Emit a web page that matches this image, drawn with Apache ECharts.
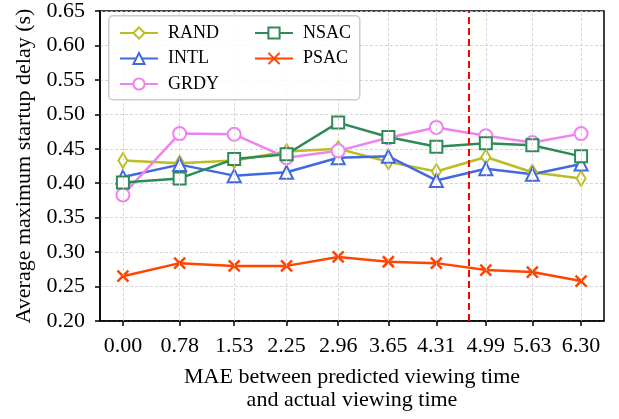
<!DOCTYPE html>
<html>
<head>
<meta charset="utf-8">
<script src="https://cdn.jsdelivr.net/npm/echarts@6/dist/echarts.min.js"></script>
<style>html,body{margin:0;padding:0;background:#fff;}#c{width:619px;height:419px;}</style>
</head>
<body>
<div id="c"></div>
<script>
const xTicks = [0.00, 0.78, 1.53, 2.25, 2.96, 3.65, 4.31, 4.99, 5.63, 6.30];
const rand = [0.433, 0.429, 0.433, 0.446, 0.450, 0.431, 0.417, 0.438, 0.416, 0.407];
const intl = [0.409, 0.427, 0.411, 0.416, 0.437, 0.439, 0.404, 0.421, 0.413, 0.428];
const grdy = [0.383, 0.472, 0.471, 0.437, 0.447, 0.466, 0.481, 0.469, 0.459, 0.472];
const nsac = [0.401, 0.407, 0.435, 0.442, 0.488, 0.467, 0.453, 0.458, 0.455, 0.439];
const psac = [0.265, 0.284, 0.280, 0.280, 0.293, 0.286, 0.284, 0.274, 0.271, 0.258];
const thresholdX = 4.75;

const FONT = '"Liberation Serif", "DejaVu Serif", serif';
const pair = arr => arr.map((v, i) => [xTicks[i], v]);

function mk(name, data, color, symbol, size) {
  return {
    name, type: 'line', data: pair(data),
    symbol, symbolSize: size, showAllSymbol: true,
    lineStyle: { color, width: 2.5 },
    itemStyle: { color: '#fff', borderColor: color, borderWidth: 2 },
    emphasis: { disabled: true },
    animation: false
  };
}

const chart = echarts.init(document.getElementById('c'), null, { renderer: 'canvas' });
chart.setOption({
  backgroundColor: '#fff',
  animation: false,
  grid: { left: 100, right: 15, top: 8, bottom: 98, show: true, borderColor: '#000', borderWidth: 1.5, backgroundColor: 'transparent' },
  xAxis: {
    type: 'value', min: -0.315, max: 6.615,
    name: 'MAE between predicted viewing time\nand actual viewing time',
    nameLocation: 'middle', nameGap: 45,
    nameTextStyle: { fontFamily: FONT, fontSize: 22, color: '#000', lineHeight: 23 },
    axisLine: { show: true, onZero: false, lineStyle: { color: '#000', width: 1.5 } },
    axisTick: { show: true, length: 5, lineStyle: { color: '#000', width: 1.5 }, customValues: xTicks },
    axisLabel: { fontFamily: FONT, fontSize: 22, color: '#000', margin: 14, customValues: xTicks, formatter: v => v.toFixed(2) },
    splitLine: { show: false }
  },
  yAxis: {
    type: 'value', min: 0.20, max: 0.65, interval: 0.05,
    name: 'Average maximum startup delay (s)',
    nameLocation: 'middle', nameGap: 63,
    nameTextStyle: { fontFamily: FONT, fontSize: 22, color: '#000' },
    axisLine: { show: true, onZero: false, lineStyle: { color: '#000', width: 1.5 } },
    axisTick: { show: true, length: 5, lineStyle: { color: '#000', width: 1.5 } },
    axisLabel: { fontFamily: FONT, fontSize: 22, color: '#000', margin: 15, formatter: v => v.toFixed(2) },
    splitLine: { show: true, lineStyle: { color: '#cccccc', type: [3, 2], width: 0.8 } }
  },
  graphic: [{
    type: 'rect', left: 108, top: 15, z: 90,
    shape: { width: 251, height: 84, r: 4 },
    style: { fill: 'rgba(255,255,255,0.85)', stroke: '#cccccc', lineWidth: 1.5 }
  }],
  legend: [
    { data: ['RAND', 'INTL', 'GRDY'], orient: 'vertical', left: 114, top: 19, itemWidth: 38, itemHeight: 14, itemGap: 7.5, z: 100,
      textStyle: { fontFamily: FONT, fontSize: 18, color: '#000', padding: [0, 0, 0, 5] }, selectedMode: false },
    { data: ['NSAC', 'PSAC'], orient: 'vertical', left: 249, top: 19, itemWidth: 38, itemHeight: 14, itemGap: 7.5, z: 100,
      textStyle: { fontFamily: FONT, fontSize: 18, color: '#000', padding: [0, 0, 0, 5] }, selectedMode: false }
  ],
  series: [
    {
      name: 'grid-x', type: 'line', data: [], silent: true, z: 0,
      markLine: {
        silent: true, symbol: 'none', label: { show: false },
        lineStyle: { color: '#cccccc', type: [3, 2], width: 0.8 },
        data: xTicks.map(x => ({ xAxis: x }))
      }
    },
    mk('RAND', rand, '#bcbd22', 'diamond', [9, 15]),
    mk('INTL', intl, '#4169e1', 'triangle', 13),
    mk('GRDY', grdy, '#ee82ee', 'circle', 13),
    mk('NSAC', nsac, '#2e8b57', 'rect', 12),
    Object.assign(mk('PSAC', psac, '#ff4500', 'path://M0,0 L10,10 M10,0 L0,10', 11), {
      itemStyle: { color: '#ff4500', borderColor: '#ff4500', borderWidth: 2.5 }
    }),
    {
      name: 'threshold', type: 'line', data: [], silent: true,
      markLine: {
        silent: true, symbol: 'none', label: { show: false },
        lineStyle: { color: '#ff0000', type: [7, 4], width: 2 },
        data: [{ xAxis: thresholdX }]
      }
    }
  ]
});
</script>
</body>
</html>
